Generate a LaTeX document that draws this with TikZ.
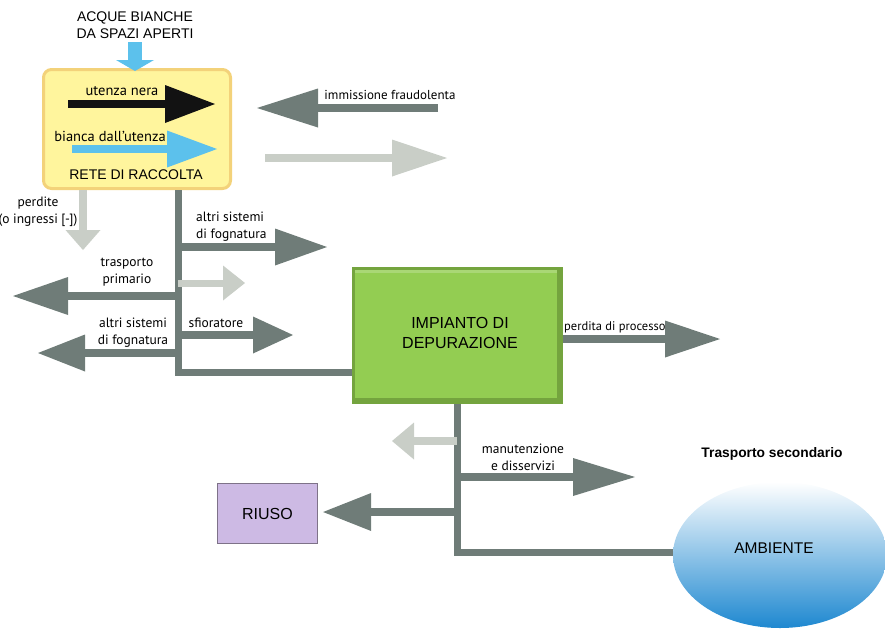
\documentclass[tikz,border=0pt]{standalone}
\usepackage{fontspec}
\setmainfont{Liberation Sans}
\newfontfamily\labfont{PT Sans}
\usetikzlibrary{arrows.meta,shapes.geometric}
\definecolor{dg}{HTML}{6F7C78}
\definecolor{lg}{HTML}{C9CEC7}
\definecolor{lblue}{HTML}{5CC1EC}
\definecolor{yfill}{HTML}{FFF59D}
\definecolor{ybord}{HTML}{F3D27A}
\definecolor{gfill}{HTML}{93CD52}
\definecolor{gedge}{HTML}{74A43E}
\definecolor{rfill}{HTML}{CDBAE4}
\definecolor{rbord}{HTML}{7E7288}
\definecolor{ablue}{HTML}{1E88D0}
\definecolor{amid}{HTML}{7CCAF0}
\tikzset{
  flow/.style n args={4}{draw=#1, line width=#2, line cap=butt,
    -{Triangle[length=#3 0, width=#4 0, line width=0pt, fill=#1]}},
  trunk/.style={draw=dg, line width=7pt},
  lab/.style={font=\labfont\fontsize{13.5}{17}\selectfont, align=center, inner sep=0pt},
  inlab/.style={font=\labfont\fontsize{14.5}{17}\selectfont, align=center, inner sep=0pt},
  caps/.style={font=\fontsize{14}{16.5}\selectfont, align=center, inner sep=0pt},
}
\begin{document}
\begin{tikzpicture}[x=1pt,y=-1pt]
\useasboundingbox (0,0) rectangle (885,630);

% Rete di raccolta
\node[draw=ybord, line width=3pt, fill=yfill, rounded corners=8pt,
      minimum width=187pt, minimum height=119pt, inner sep=0pt] (rete) at (137,129) {};
\node[caps] (retelab) at (136,175) {RETE DI RACCOLTA};
\node[caps] (acq) at (135,25) {ACQUE BIANCHE\\DA SPAZI APERTI};
\coordinate (acqtop) at (135,42);
\draw[flow={lblue}{14pt}{11pt}{38pt}] (acqtop) -- ([yshift=-3pt]acqtop |- rete.north);

\coordinate (bn0) at (68,104); \coordinate (bn1) at (215,104);
\draw[flow={black!93}{8pt}{50pt}{38pt}] (bn0) -- (bn1);
\node[inlab] (bnlab) at (122,91) {utenza nera};
\coordinate (bb0) at (72,149); \coordinate (bb1) at (217,149);
\draw[flow={lblue}{8pt}{50pt}{37pt}] (bb0) -- (bb1);
\node[inlab] (bblab) at (110,136) {bianca dall’utenza};

% immissione fraudolenta
\coordinate (im0) at (438,108); \coordinate (im1) at (257,108);
\draw[flow={dg}{8pt}{61pt}{39pt}] (im0) -- (im1);
\node[lab, font=\labfont\fontsize{13}{16}\selectfont] (imlab) at (390,95) {immissione fraudolenta};
\coordinate (lo0) at (265,158); \coordinate (lo1) at (447,158);
\draw[flow={lg}{8pt}{55pt}{37pt}] (lo0) -- (lo1);

% perdite
\coordinate (pe1) at (83,250);
\draw[flow={lg}{8pt}{20pt}{35pt}] (pe1 |- rete.south) -- (pe1);
\node[lab] (pelab) at (38,212) {perdite\\(o ingressi [-])};

% Impianto di depurazione
\node[fill=gedge, minimum width=211pt, minimum height=137pt, inner sep=0pt] (dep) at (457.5,335.5) {};
\fill[gfill] ([shift={(3pt,-3pt)}]dep.north west) rectangle ([shift={(-6pt,6pt)}]dep.south east);
\fill[gfill!80!white] ([shift={(3pt,-3pt)}]dep.north west) rectangle ([shift={(-6pt,-6pt)}]dep.north east);
\node[font=\fontsize{16}{20}\selectfont, align=center, inner sep=0pt] (deplab) at (460,333) {IMPIANTO DI\\DEPURAZIONE};

% main trunk
\coordinate (tA) at (178,372);
\draw[trunk] (tA |- rete.south) -- (tA) -- (tA -| dep.west);

\coordinate (as0) at (178,247); \coordinate (as1) at (327,247);
\draw[flow={dg}{8pt}{52pt}{37pt}] (as0) -- (as1);
\node[lab, align=left, anchor=west] (aslab) at (196,227) {altri sistemi\\di fognatura};

\coordinate (tp0) at (178,296); \coordinate (tp1) at (13,296);
\draw[flow={dg}{8pt}{55pt}{38pt}] (tp0) -- (tp1);
\node[lab] (tplab) at (127,272) {trasporto\\primario};

\coordinate (lr0) at (178,283); \coordinate (lr1) at (245,283);
\draw[flow={lg}{7pt}{22pt}{35pt}] (lr0) -- (lr1);

\coordinate (af0) at (178,353); \coordinate (af1) at (38,353);
\draw[flow={dg}{8pt}{47pt}{37pt}] (af0) -- (af1);
\node[lab] (aflab) at (133,333) {altri sistemi\\di fognatura};

\coordinate (sf0) at (178,335); \coordinate (sf1) at (293,335);
\draw[flow={dg}{8pt}{40pt}{37pt}] (sf0) -- (sf1);
\node[lab] (sflab) at (216,323) {sfioratore};

% perdita di processo
\coordinate (pp1) at (720,339);
\draw[flow={dg}{8pt}{55pt}{37pt}] (pp1 -| dep.east) -- (pp1);
\node[lab, font=\labfont\fontsize{12.5}{15}\selectfont, anchor=west] (pplab) at (564,327) {perdita di processo};

% Ambiente
\node[ellipse, minimum width=214pt, minimum height=146pt, inner sep=0pt,
      top color=white, middle color=amid, bottom color=ablue] (amb) at (780,555) {};
\node[font=\fontsize{15.5}{18}\selectfont, inner sep=0pt] (amblab) at (774,548) {AMBIENTE};
\node[font=\bfseries\fontsize{13.8}{16}\selectfont, inner sep=0pt] (trsec) at (772,454) {Trasporto secondario};

% Riuso
\node[draw=rbord, fill=rfill, line width=1.2pt, minimum width=100pt, minimum height=60pt,
      font=\fontsize{16}{18}\selectfont, inner sep=0pt] (riuso) at (267.5,513.5) {RIUSO};

% lower trunk
\coordinate (tB) at (457,552);
\draw[trunk] (dep.south -| tB) -- (tB) -- (tB -| amb.west);

\coordinate (ll0) at (457,441); \coordinate (ll1) at (392,441);
\draw[flow={lg}{8pt}{22pt}{37pt}] (ll0) -- (ll1);

\coordinate (mn0) at (457,477); \coordinate (mn1) at (635,477);
\draw[flow={dg}{8pt}{62pt}{38pt}] (mn0) -- (mn1);
\node[lab] (mnlab) at (523,457) {manutenzione\\e disservizi};

\coordinate (ri0) at (457,512);
\draw[flow={dg}{8pt}{48pt}{38pt}] (ri0) -- ([xshift=5pt]ri0 -| riuso.east);
\end{tikzpicture}
\end{document}
